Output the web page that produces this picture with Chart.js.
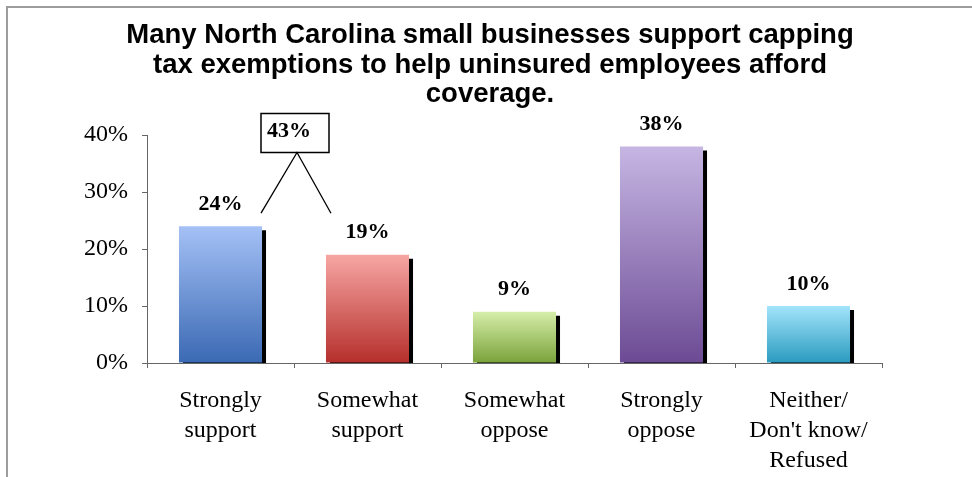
<!DOCTYPE html>
<html>
<head>
<meta charset="utf-8">
<script src="https://cdn.jsdelivr.net/npm/chart.js@4.4.0/dist/chart.umd.min.js"></script>
<style>
    body { margin: 0; background: #fff; }
    #marco { position: absolute; left: 6px; top: 6px; width: 980px; height: 480px;
             border-left: 2px solid #9c9c9c; border-top: 2px solid #9c9c9c; }
    #grafica { position: absolute; left: 0; top: 0; }
</style>
</head>
<body>
<div id="marco"></div>
<canvas id="grafica" width="972" height="477"></canvas>
<script>
// Datos de la encuesta
const categorias = [
    ['Strongly', 'support'],
    ['Somewhat', 'support'],
    ['Somewhat', 'oppose'],
    ['Strongly', 'oppose'],
    ['Neither/', "Don't know/", 'Refused']
]
const porcentajes = [24, 19, 9, 38, 10]
const ticksY = [0, 10, 20, 30, 40]
const titulo = [
    'Many North Carolina small businesses support capping',
    'tax exemptions to help uninsured employees afford',
    'coverage.'
]

// Colores de degradado (arriba, abajo) de cada barra
const coloresArriba = ['#a5c1f6', '#f7a6a3', '#d6eeaa', '#c6b6e3', '#a3e4fb']
const coloresAbajo = ['#3a69b3', '#b52f2b', '#7aa23a', '#6c4a94', '#2a9bbf']

function degradado(context) {
    const chart = context.chart
    const i = context.dataIndex
    if (!chart.chartArea || !chart.scales.y) return coloresArriba[i]
    const y = chart.scales.y
    const arriba = y.getPixelForValue(porcentajes[i])
    const abajo = y.getPixelForValue(0)
    const g = chart.ctx.createLinearGradient(0, arriba, 0, abajo)
    g.addColorStop(0, coloresArriba[i])
    g.addColorStop(1, coloresAbajo[i])
    return g
}

// Sombra negra desplazada detrás de las barras
const sombra = {
    id: 'sombra',
    beforeDatasetsDraw(chart) {
        const ctx = chart.ctx
        ctx.save()
        ctx.shadowColor = '#000'
        ctx.shadowBlur = 0
        ctx.shadowOffsetX = 4
        ctx.shadowOffsetY = 4
    },
    afterDatasetsDraw(chart) {
        chart.ctx.restore()
    }
}

// Etiquetas de valor y recuadro con la suma de apoyo
const etiquetas = {
    id: 'etiquetas',
    afterDraw(chart) {
        const ctx = chart.ctx
        const meta = chart.getDatasetMeta(0)
        ctx.save()
        ctx.fillStyle = '#000'
        ctx.font = 'bold 22px "Liberation Serif"'
        ctx.textAlign = 'center'
        ctx.textBaseline = 'alphabetic'
        meta.data.forEach((barra, i) => {
            ctx.fillText(porcentajes[i] + '%', barra.x, barra.y - 16.5)
        })

        // Recuadro "apoyo total" entre las dos primeras categorías
        const x = chart.scales.x
        const y = chart.scales.y
        const limite = (x.getPixelForValue(0) + x.getPixelForValue(1)) / 2
        const apoyo = porcentajes[0] + porcentajes[1]
        const caja = { left: limite - 33, top: 113.5, w: 68, h: 39 }
        ctx.lineWidth = 1.5
        ctx.strokeStyle = '#000'
        ctx.strokeRect(caja.left, caja.top, caja.w, caja.h)
        ctx.fillText(apoyo + '%', limite - 5, 136.5)

        const vertice = { x: limite + 3, y: caja.top + caja.h }
        const finY = y.getPixelForValue(porcentajes[0]) - 13
        ctx.lineWidth = 1.3
        ctx.beginPath()
        ctx.moveTo(meta.data[0].x + meta.data[0].width / 2 - 1, finY)
        ctx.lineTo(vertice.x, vertice.y)
        ctx.lineTo(meta.data[1].x - meta.data[1].width / 2 + 5, finY)
        ctx.stroke()
        ctx.restore()
    }
}

const fuenteEjes = { family: '"Liberation Serif"', size: 24, lineHeight: '30px' }

const config = {
    type: 'bar',
    data: {
        labels: categorias,
        datasets: [{
            data: porcentajes,
            backgroundColor: degradado,
            borderWidth: 0,
            barPercentage: 0.565,
            categoryPercentage: 1
        }]
    },
    options: {
        responsive: false,
        animation: false,
        layout: { padding: { left: 8, right: 0, top: 0, bottom: 0 } },
        plugins: {
            legend: { display: false },
            tooltip: { enabled: false },
            title: {
                display: true,
                text: titulo,
                color: '#000',
                font: { family: '"Liberation Sans"', size: 27.5, weight: 'bold', lineHeight: '29.5px' },
                padding: { top: 21, bottom: 25.5 }
            }
        },
        scales: {
            x: {
                grid: { display: true, drawOnChartArea: false, tickLength: 5, color: '#666', offset: true },
                border: { color: '#666', width: 1 },
                ticks: { color: '#000', font: fuenteEjes, padding: 18, maxRotation: 0, autoSkip: false },
                afterFit: s => { s.height = 114 }
            },
            y: {
                min: 0,
                max: 40,
                afterBuildTicks: s => { s.ticks = ticksY.map(v => ({ value: v })) },
                grid: { display: true, drawOnChartArea: false, tickLength: 5, color: '#666' },
                border: { color: '#666', width: 1 },
                ticks: { color: '#000', font: fuenteEjes, padding: 14, callback: v => v + '%' },
                afterFit: s => { s.width = 139 }
            },
            derecha: {
                type: 'linear',
                position: 'right',
                grid: { display: false },
                border: { display: false },
                ticks: { display: false },
                afterFit: s => { s.width = 90 }
            }
        }
    },
    plugins: [sombra, etiquetas]
}

let myChart = new Chart(document.getElementById('grafica'), config)
</script>
</body>
</html>
